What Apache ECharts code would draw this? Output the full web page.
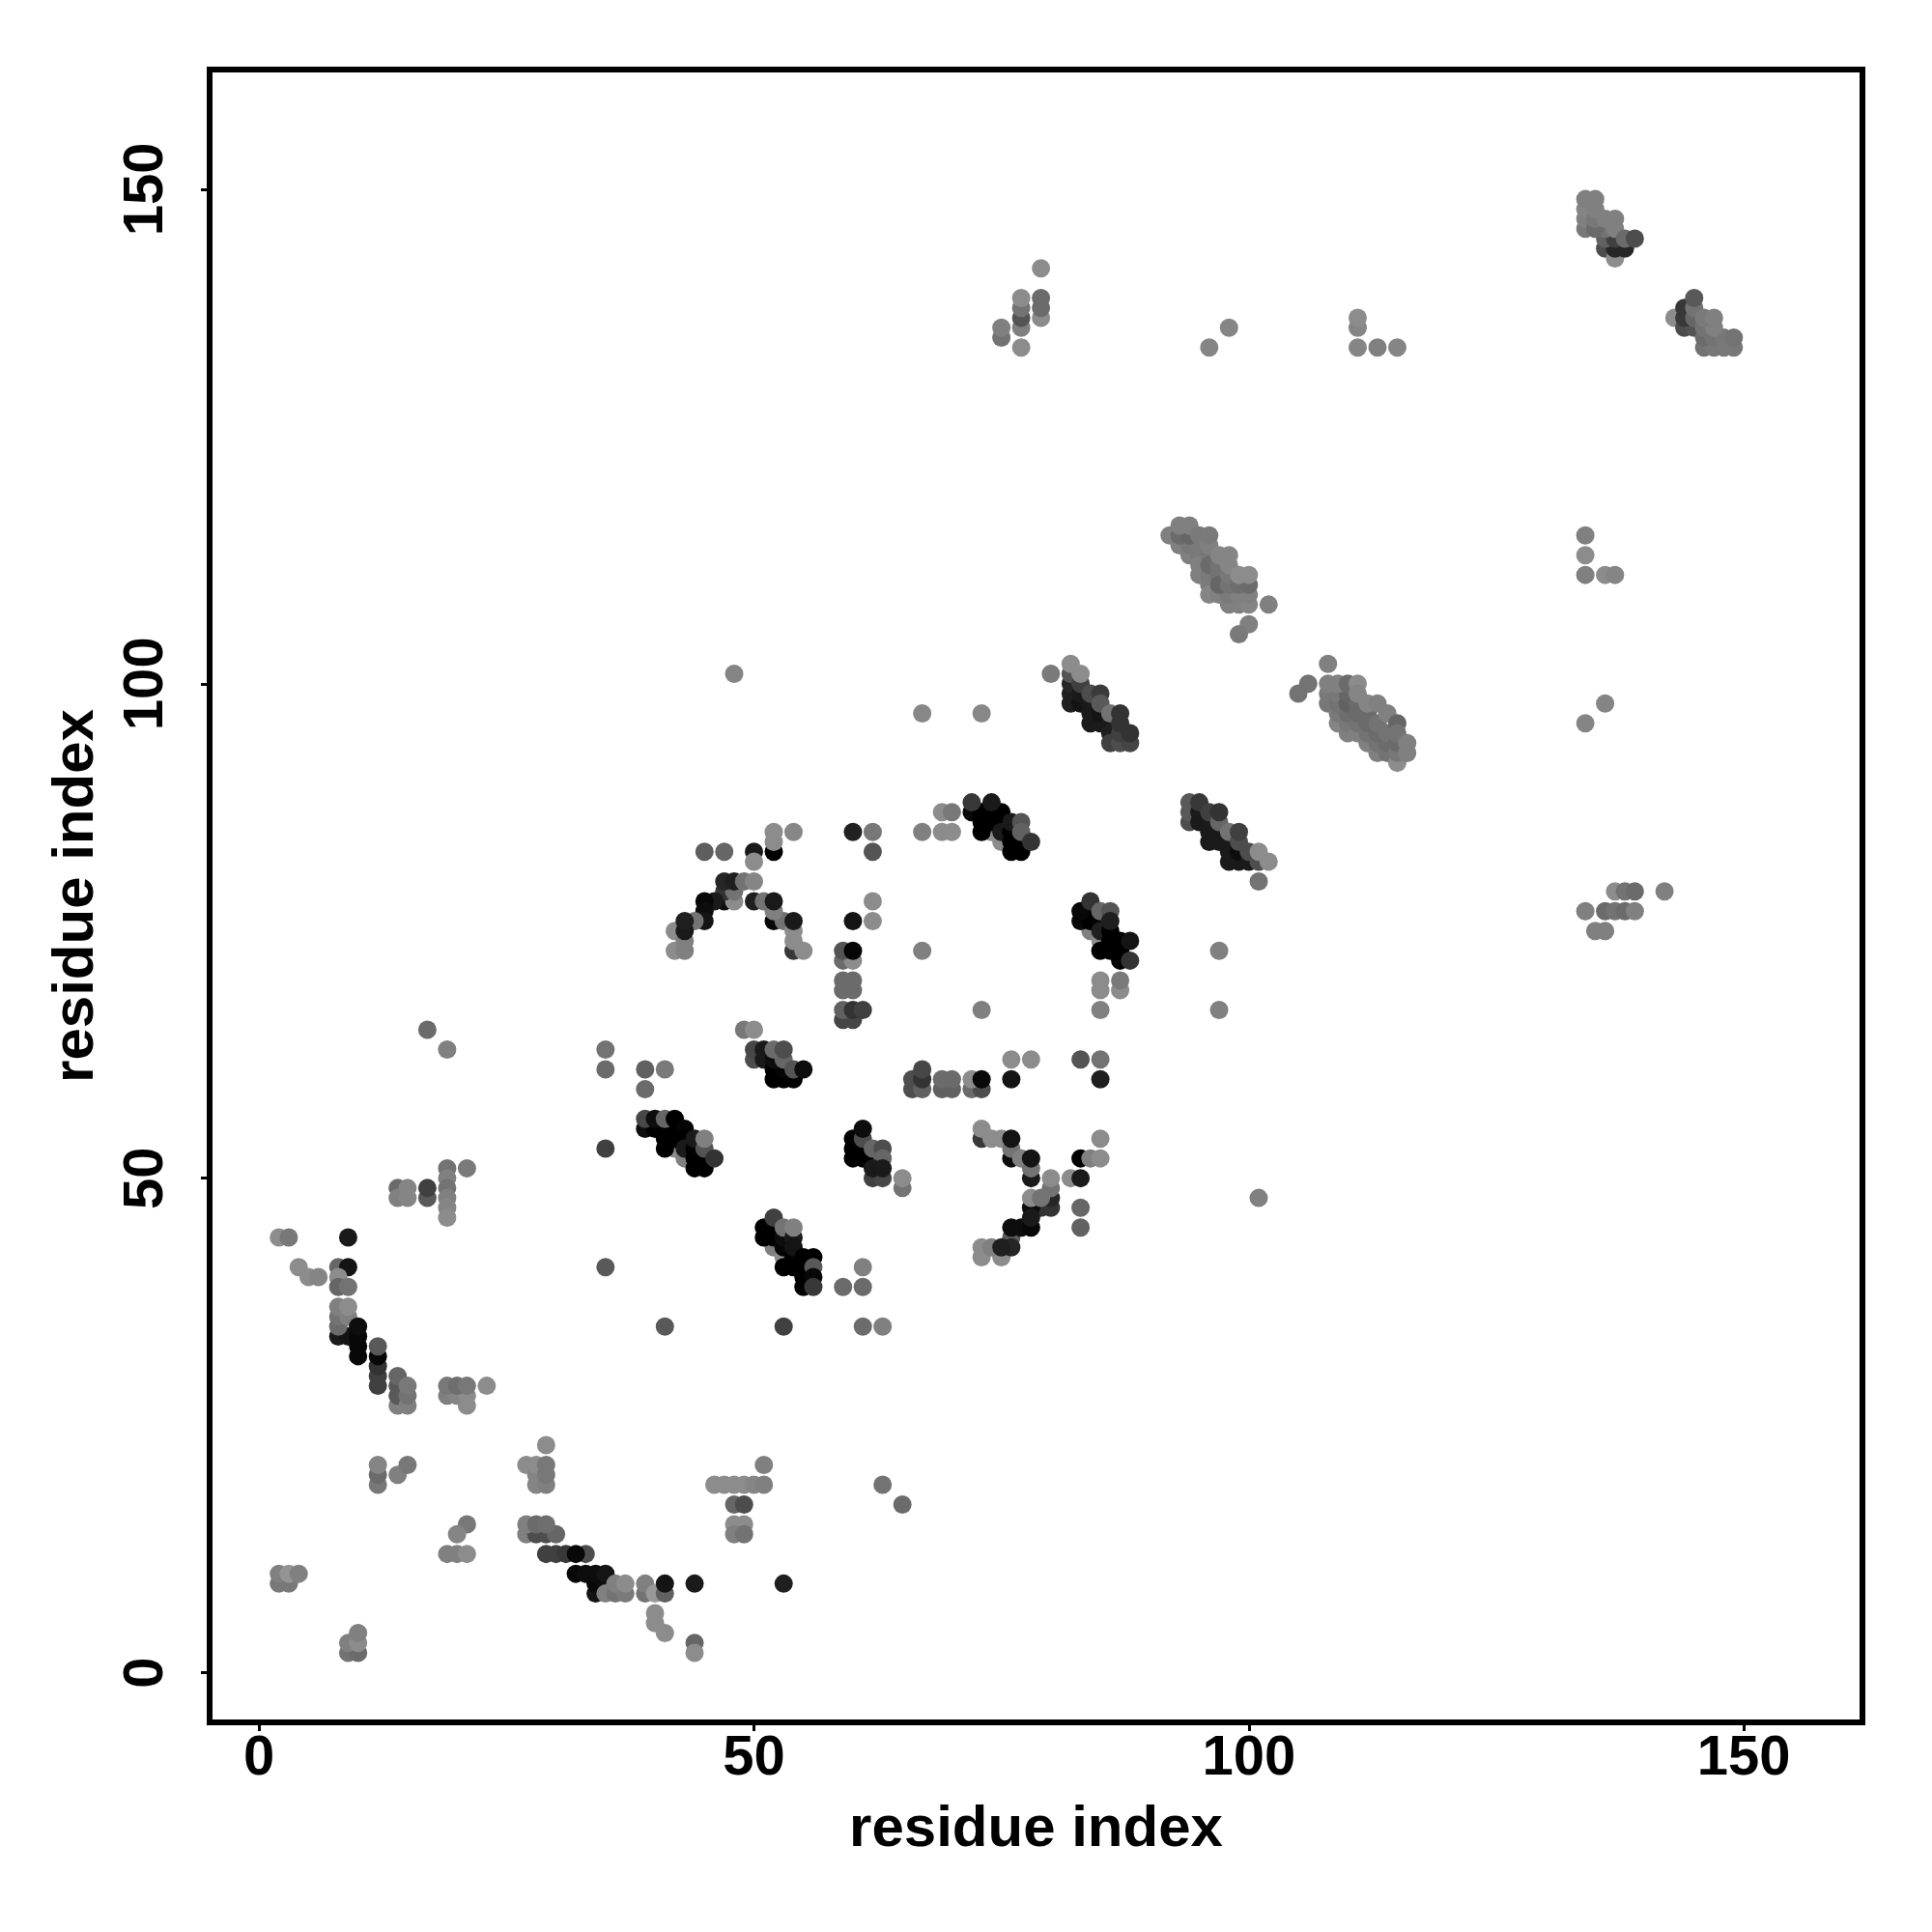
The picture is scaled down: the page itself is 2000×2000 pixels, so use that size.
<!DOCTYPE html>
<html><head><meta charset="utf-8">
<script src="https://cdn.jsdelivr.net/npm/echarts@6/dist/echarts.min.js"></script>
<style>html,body{margin:0;padding:0;background:#fff}#c{width:2000px;height:2000px}</style></head>
<body><div id="c"></div>
<script>
// each entry: [residue x, residue y, darkness as grey fraction 0 = black .. 0.55 = light]
const tickValues = [0, 50, 100, 150];
const titleX = "residue index", titleY = "residue index";
const lowerLeft = [
[19,51,.45],[19,50,.5],[19,49,.45],[19,48,.5],[19,47,.52],[19,46,.55],[21,51,.48],
[14,49,.42],[14,48,.5],[15,49,.52],[15,48,.52],[17,48,.35],[17,49,.25],
[2,44,.55],[3,44,.47],[9,44,.1],[4,41,.55],[5,40,.55],[6,40,.52],
[8,41,.4],[9,41,.08],[8,40,.55],[8,39,.4],[9,39,.45],
[8,34,.1],[9,34,.08],[8,35,.42],[8,36,.45],[8,37,.5],[9,36,.5],[9,37,.55],
[10,32,.03],[10,33,.03],[10,34,.03],[10,35,.05],
[12,29,.25],[12,30,.25],[12,31,.2],[12,32,.03],[12,33,.35],
[14,27,.5],[14,28,.35],[14,29,.35],[14,30,.4],[15,27,.5],[15,28,.45],[15,29,.47],
[19,28,.5],[20,28,.52],[21,27,.55],[21,28,.55],[19,29,.47],[20,29,.43],[21,29,.47],[23,29,.55],
[29,23,.55],[12,19,.47],[12,20,.42],[12,21,.52],[14,20,.5],[15,21,.47],
[27,21,.55],[28,19,.52],[28,20,.52],[28,21,.55],[29,19,.5],[29,20,.47],[29,21,.47],
[21,15,.47],[20,14,.52],[19,12,.5],[20,12,.5],[21,12,.55],
[27,14,.5],[28,14,.3],[29,14,.3],[30,14,.4],[27,15,.5],[28,15,.42],[29,15,.43],
[29,12,.25],[30,12,.25],[31,12,.22],[33,12,.3],[32,12,.03],
[34,8,.08],[34,9,.03],[35,9,.05],[32,10,.03],[33,10,.05],[34,10,.05],[35,10,.08],
[35,8,.5],[36,8,.45],[37,8,.48],[36,9,.5],[37,9,.55],
[39,8,.45],[39,9,.5],[40,8,.6],[41,8,.38],[41,9,.08],[40,6,.55],[40,5,.55],[41,4,.55],
[2,9,.47],[3,9,.47],[2,10,.5],[3,10,.58],[4,10,.5],
[9,2,.45],[10,2,.42],[9,3,.5],[10,3,.55],[10,4,.5],
[35,41,.35],[41,35,.35],[17,65,.42],[19,63,.5],
[46,19,.55],[47,19,.55],[48,19,.55],[49,19,.55],[50,19,.52],[51,19,.5],[51,21,.5],
[48,17,.4],[49,17,.3],[48,15,.55],[49,15,.55],[48,14,.5],[49,14,.45],
[63,19,.45],[65,17,.42],[44,9,.1],[53,9,.12],[44,3,.4],[44,2,.55]
];
const midSheets = [
[35,63,.45],[35,61,.42],[39,61,.38],[41,61,.48],[39,59,.42],[35,53,.25],
[49,65,.47],[50,65,.55],
[50,62,.3],[50,63,.28],[51,62,.1],[51,63,.1],[52,60,0],[53,60,0],[54,60,0],[52,61,0],[53,61,.02],[52,62,.05],[53,62,.4],[52,63,.42],[53,63,.3],[54,61,.33],[55,61,.05],
[42,53,.55],[43,52,.5],
[39,55,.05],[40,55,0],[41,55,0],[42,55,0],[39,56,.28],[40,56,.05],[41,56,.4],[42,56,0],
[43,55,.02],[41,54,0],[42,54,0],[43,54,0],[41,53,0],[43,53,.1],[44,51,0],[45,51,0],[44,52,0],[45,52,0],[44,53,0],[44,54,.1],[45,53,.33],[45,54,.5],[46,52,.2],
[60,52,0],[61,52,0],[62,52,0],[60,53,0],[61,53,0],[60,54,0],[61,54,.3],[61,55,.05],[62,53,.4],[63,53,.3],[63,52,.4],[62,50,.25],[63,50,.28],[62,51,.1],[63,51,.1],
[65,49,.45],[65,50,.55],
[52,43,.5],[53,42,.55],
[51,44,0],[51,45,0],[52,44,0],[52,45,0],[52,46,.25],[53,43,.02],[53,44,.05],[53,45,.45],[54,44,.1],[54,45,.5],
[53,41,0],[54,41,0],[54,42,0],[54,43,.08],[55,39,0],[55,40,0],[55,41,0],[55,42,0],[56,42,0],[56,41,.35],[56,40,.03],[56,39,.22],
[61,41,.5],[59,39,.42],[61,39,.42],[53,35,.25],[61,35,.42],[63,35,.5]
];
const rightArc = [
[66,59,.3],[66,60,.3],[67,59,.38],[67,60,.2],[67,61,.28],[69,59,.38],[70,59,.38],[69,60,.42],[70,60,.42],
[72,59,.42],[73,59,.3],[72,60,.55],[73,60,.03],[76,60,.08],[76,62,.55],[78,62,.55],
[73,54,.22],[73,55,.55],[74,54,.55],[75,54,.55],[76,52,.05],[76,53,.45],[76,54,.08],[77,52,.5],[78,50,.1],[78,51,.45],[78,52,.08],
[80,47,.2],[79,47,.2],[78,47,.05],[80,48,.15],[78,48,.55],[79,48,.45],[80,49,.45],[80,50,.55],
[73,42,.55],[75,42,.55],[73,43,.55],[74,43,.5],[76,44,.35],[76,43,.15],[75,43,.12],[76,45,.05],[77,45,.05],[78,45,.03],[78,46,.1],
[82,50,.55],[83,50,.1],[83,52,0],[84,52,.5],[85,52,.55],[85,54,.55],[83,47,.4],[83,45,.38],
[83,62,.33],[85,62,.45],[85,60,.12]
];
const upperArc = [
[52,83,0],[52,84,.55],[52,85,.55],[54,85,.53],[50,83,.1],[50,82,.55],[45,83,.37],[47,83,.4],
[60,85,.13],[62,85,.47],[62,83,.33],[62,78,.55],[60,76,.08],[62,76,.55],
[67,85,.5],[69,85,.55],[70,85,.55],[69,87,.55],[70,87,.47],[67,73,.5],[73,67,.5],
[47,78,.05],[48,78,.55],[47,79,.2],[48,79,.45],[47,80,.15],[48,80,.12],[49,80,.45],[50,80,.52],
[46,78,.1],[45,78,.03],[45,77,.05],[45,76,.08],[44,76,.45],[42,75,.55],[42,73,.55],[43,73,.5],[43,74,.5],[43,75,.1],[43,76,.12],
[52,76,.03],[53,76,.45],[52,77,.5],[50,78,.12],[51,78,.45],[52,78,.1],[54,73,.22],[55,73,.55],[54,74,.55],[54,75,.55],[54,76,.1],
[59,72,.42],[60,72,.55],[59,73,.33],[60,73,.02],[59,69,.42],[60,69,.42],[59,70,.42],[60,70,.42],
[59,66,.27],[60,66,.27],[59,67,.38],[60,67,.2],[61,67,.25]
];
const contactBlocks = [
[74,85,.55],[75,84,.55],[72,87,.03],[73,87,0],[73,86,0],[73,85,0],[74,87,0],[74,86,0],[75,87,0],[75,86,0],[75,85,.1],[76,85,0],[76,84,0],[76,83,0],[77,84,0],[77,83,0],[72,88,.22],[74,88,.1],[76,86,.1],[77,86,.33],[77,85,.38],[78,84,.2],
[84,75,.5],[85,74,.55],[83,76,.03],[84,76,0],[84,77,0],[83,77,.03],[85,76,.02],[85,75,.12],[85,73,0],[86,75,0],[86,74,0],[86,73,0],[87,73,0],[87,72,0],[87,74,0],[84,78,.2],[85,77,.4],[86,77,.33],[86,76,.12],[88,74,.08],[88,72,.2],
[85,70,.55],[85,69,.55],[87,69,.55],[87,70,.48],[85,67,.5],[97,73,.5],[97,67,.5],[101,48,.5],
[80,101,.48],[82,99,.12],[82,98,.12],[82,100,.15],[82,101,.33],[83,98,.08],[83,99,.1],[84,96,.1],[84,97,.1],[84,98,.1],[85,96,.1],[85,97,.08],[86,96,.1],[86,95,.12],[86,94,.25],[87,94,.3],[88,94,.27],[87,95,.25],[83,100,.25],[84,99,.3],[85,99,.23],[85,98,.35],[86,97,.45],[87,96,.2],[87,97,.2],[88,95,.2],[82,102,.55],[83,101,.55],
[94,86,.3],[94,87,.35],[94,88,.35],[95,86,.1],[95,87,.1],[95,88,.22],[96,84,.1],[96,85,.1],[96,86,.1],[96,87,.25],[97,84,.1],[97,85,.1],[97,86,.4],[97,87,.2],[98,82,.1],[98,83,.1],[98,84,.1],[98,85,.45],[99,82,.1],[99,83,.05],[99,84,.3],[99,85,.25],[100,82,.1],[100,83,.3],[101,82,.3],[101,83,.55],[102,82,.55],[101,80,.45]
];
const betaBlocks = [
[92,115,.5],[93,114,.5],[94,113,.5],[95,113,.48],[95,112,.5],[95,111,.5],[96,111,.48],[96,110,.48],[96,109,.52],[97,109,.5],[98,108,.5],[99,108,.5],[100,108,.52],[98,109,.48],[99,109,.5],[100,109,.5],
[94,114,.47],[95,114,.48],[96,113,.47],[96,112,.42],[97,112,.45],[97,111,.45],[97,110,.4],[98,110,.45],[98,111,.47],[99,110,.43],[100,110,.42],
[93,115,.42],[94,115,.4],[93,116,.5],[94,116,.5],[95,115,.48],[96,114,.5],[96,115,.48],[97,113,.52],[98,112,.52],[98,113,.52],[99,111,.55],[100,111,.55],
[102,108,.5],[100,106,.5],[99,105,.48],
[108,102,.5],[105,99,.45],[106,100,.45],
[108,98,.47],[108,99,.47],[109,96,.52],[109,97,.48],[109,98,.45],[109,99,.47],[110,95,.5],[110,96,.47],[110,97,.43],[110,98,.38],[110,99,.4],[111,95,.5],[111,96,.45],[111,97,.42],[111,98,.42],
[112,94,.5],[112,95,.45],[112,96,.42],[112,97,.42],[113,93,.5],[113,94,.45],[113,95,.42],[113,96,.45],[114,93,.45],[114,94,.42],[114,95,.45],[115,92,.55],[115,93,.47],[115,94,.42],
[108,100,.5],[109,100,.5],[110,100,.42],[111,100,.55],[111,99,.52],[112,98,.52],[113,98,.5],[114,97,.5],[115,96,.4],[115,95,.45],[116,93,.5],[116,94,.5]
];
const upperRight = [
[48,101,.52],[67,97,.53],[73,97,.53],
[75,135,.45],[75,136,.5],[77,134,.55],[77,136,.5],[77,137,.33],[77,138,.45],[77,139,.55],[79,137,.55],[79,138,.42],[79,139,.42],[79,142,.55],
[96,134,.52],[98,136,.52],[111,134,.52],[111,136,.52],[111,137,.55],[113,134,.5],[115,134,.52],
[134,115,.5],[134,113,.55],[134,111,.5],[136,111,.55],[137,111,.52],[136,98,.52],[134,96,.52],
[134,77,.5],[135,75,.5],[136,75,.5],[136,77,.42],[137,77,.45],[138,77,.42],[139,77,.5],[137,79,.55],[138,79,.45],[139,79,.42],[142,79,.5],
[136,144,.3],[137,143,.55],[137,144,.15],[138,144,.15],[136,145,.38],[137,145,.25],[136,146,.45],[134,146,.47],[134,147,.5],[134,148,.52],[134,149,.5],[135,146,.42],[135,147,.47],[135,148,.5],[135,149,.5],
[136,147,.5],[137,146,.5],[137,147,.5],[138,145,.42],[139,145,.3],
[143,137,.55],[144,136,.3],[145,136,.33],[144,137,.22],[144,138,.22],[145,137,.4],[145,138,.45],[145,139,.35],
[146,134,.45],[147,134,.47],[148,134,.47],[149,134,.47],[146,135,.42],[147,135,.45],[148,135,.47],[149,135,.45],[146,136,.45],[147,136,.5],[146,137,.48],[147,137,.5]
];
const allPoints = [].concat(lowerLeft, midSheets, rightArc, upperArc, contactBlocks, betaBlocks, upperRight);

const FONT = '"Liberation Sans", Arial, sans-serif';
const chart = echarts.init(document.getElementById('c'), null, {renderer:'canvas', width:2000, height:2000});
function axis(name, rot, nameRot, labelMargin, nameGap, lo, hi){
  return {
    type:'value', min:lo, max:hi, name:name, nameLocation:'middle', nameGap:nameGap, nameRotate:nameRot,
    nameTextStyle:{fontFamily:FONT,fontWeight:'bold',fontSize:60,color:'#000'},
    splitLine:{show:false},
    axisLine:{show:false,onZero:false},
    axisTick:{show:true,length:9,inside:false,lineStyle:{color:'#000',width:3},customValues:tickValues},
    axisLabel:{show:true,rotate:rot,margin:labelMargin,fontFamily:FONT,fontWeight:'bold',fontSize:58,color:'#000',customValues:tickValues}
  };
}
chart.setOption({
  animation:false, backgroundColor:'#fff',
  grid:{show:true,left:217,top:72,width:1711,height:1711,borderColor:'#000',borderWidth:6,backgroundColor:'#fff',containLabel:false},
  xAxis:axis(titleX,0,0,9,81,-5,162),
  yAxis:axis(titleY,90,90,36,108,-5.03,162.1),
  series:[{type:'scatter',symbol:'circle',symbolSize:19,
    data:allPoints,
    encode:{x:0,y:1},
    itemStyle:{opacity:1,color:function(p){const g=Math.round(p.value[2]*255);return 'rgb('+g+','+g+','+g+')';}}
  }]
});
</script></body></html>
